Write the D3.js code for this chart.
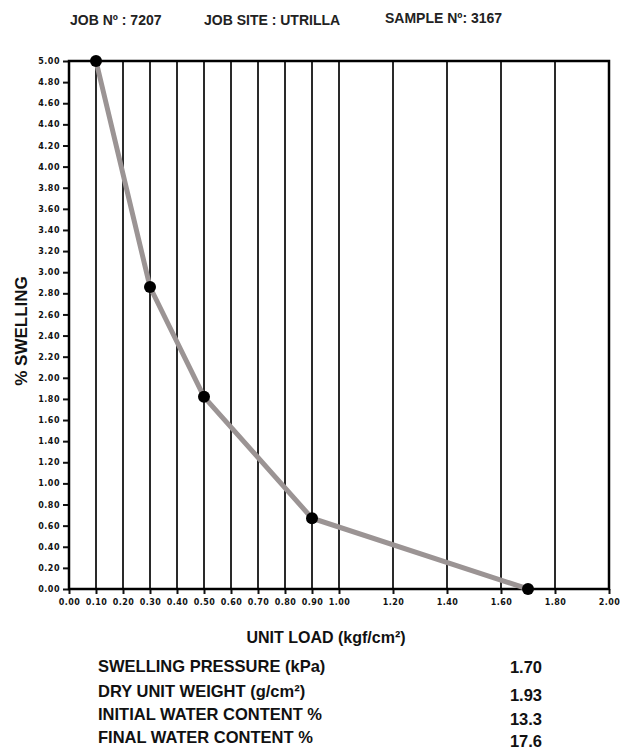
<!DOCTYPE html>
<html>
<head>
<meta charset="utf-8">
<script src="https://cdn.jsdelivr.net/npm/d3@7"></script>
<style>
  body { margin: 0; background: #fff; }
  svg { display: block; }
</style>
</head>
<body>
<svg id="chart" width="620" height="749"></svg>
<script>
// swelling test data
const loads = [0.1, 0.3, 0.5, 0.9, 1.7];
const swelling = [5.0, 2.86, 1.82, 0.67, 0.0];

// tick values
const xTicks = [0, 0.1, 0.2, 0.3, 0.4, 0.5, 0.6, 0.7, 0.8, 0.9, 1.0, 1.2, 1.4, 1.6, 1.8, 2.0];
const yTicks = d3.range(0, 26).map((i) => i * 0.2);

const headerLabels = ["JOB Nº : 7207", "JOB SITE : UTRILLA", "SAMPLE Nº: 3167"];
const tableLabels = ["SWELLING PRESSURE (kPa)", "DRY UNIT WEIGHT (g/cm²)", "INITIAL WATER CONTENT %", "FINAL WATER CONTENT %"];
const tableValues = ["1.70", "1.93", "13.3", "17.6"];

const svg = d3.select("#chart");
const margin = { top: 61, right: 11, bottom: 160, left: 69 };
const width = 620, height = 749;

const x = d3.scaleLinear().domain([0, 2]).range([margin.left, width - margin.right]);
const y = d3.scaleLinear().domain([0, 5]).range([height - margin.bottom, margin.top]);

const font = "'Liberation Sans', Arial, sans-serif";
const tickFont = "'DejaVu Sans', Verdana, sans-serif";

// header
const headerX = [70, 204, 385];
const headerY = [25, 25, 23];
svg.append("g")
  .selectAll("text")
  .data(headerLabels)
  .join("text")
  .attr("x", (d, i) => headerX[i])
  .attr("y", (d, i) => headerY[i])
  .attr("font-family", font)
  .attr("font-weight", "bold")
  .attr("font-size", 14)
  .attr("fill", "#222")
  .text((d) => d);

// vertical grid lines
svg.append("g")
  .selectAll("line")
  .data(xTicks.filter((d) => d > 0 && d < 2))
  .join("line")
  .attr("x1", (d) => x(d))
  .attr("x2", (d) => x(d))
  .attr("y1", y(5))
  .attr("y2", y(0))
  .attr("stroke", "#2a2a2a")
  .attr("stroke-width", 2);

// x axis
const xAxis = svg.append("g")
  .attr("transform", `translate(0, ${y(0)})`)
  .call(d3.axisBottom(x).tickValues(xTicks).tickSize(5).tickSizeOuter(0).tickFormat(d3.format(".2f")));
xAxis.select(".domain").remove();
xAxis.selectAll(".tick line").attr("stroke", "#111").attr("stroke-width", 2);
xAxis.selectAll(".tick text")
  .attr("y", 10)
  .attr("font-family", tickFont)
  .attr("font-weight", "bold")
  .attr("font-size", 8)
  .attr("letter-spacing", 0.5)
  .attr("fill", "#111");

// y axis
const yAxis = svg.append("g")
  .attr("transform", `translate(${x(0)}, 0)`)
  .call(d3.axisLeft(y).tickValues(yTicks).tickSize(6).tickSizeOuter(0).tickFormat(d3.format(".2f")));
yAxis.select(".domain").remove();
yAxis.selectAll(".tick line").attr("stroke", "#111").attr("stroke-width", 2);
yAxis.selectAll(".tick text")
  .attr("x", -9)
  .attr("font-family", tickFont)
  .attr("font-weight", "bold")
  .attr("font-size", 8)
  .attr("letter-spacing", 0.5)
  .attr("fill", "#111");

// frame
svg.append("rect")
  .attr("x", x(0))
  .attr("y", y(5))
  .attr("width", x(2) - x(0))
  .attr("height", y(0) - y(5))
  .attr("fill", "none")
  .attr("stroke", "#000")
  .attr("stroke-width", 2.5);

// swelling curve
const points = loads.map((d, i) => ({ load: d, swell: swelling[i] }));
const line = d3.line().x((d) => x(d.load)).y((d) => y(d.swell));

svg.append("path")
  .datum(points)
  .attr("fill", "none")
  .attr("stroke", "#9b9494")
  .attr("stroke-width", 5)
  .attr("d", line);

svg.append("g")
  .selectAll("circle")
  .data(points)
  .join("circle")
  .attr("cx", (d) => x(d.load))
  .attr("cy", (d) => y(d.swell))
  .attr("r", 6)
  .attr("fill", "#000");

// axis titles
svg.append("text")
  .attr("x", 326)
  .attr("y", 643)
  .attr("text-anchor", "middle")
  .attr("font-family", font)
  .attr("font-weight", "bold")
  .attr("font-size", 16)
  .attr("fill", "#111")
  .text("UNIT LOAD (kgf/cm²)");

svg.append("text")
  .attr("transform", `translate(27, 331) rotate(-90)`)
  .attr("text-anchor", "middle")
  .attr("font-family", font)
  .attr("font-weight", "bold")
  .attr("font-size", 17)
  .attr("fill", "#111")
  .text("% SWELLING");

// summary table
const labelY = [672, 697, 720, 743];
const valueY = [675, 703, 727, 749];
const table = svg.append("g");
table.selectAll("text.label")
  .data(tableLabels)
  .join("text")
  .attr("class", "label")
  .attr("x", 98)
  .attr("y", (d, i) => labelY[i])
  .attr("font-family", font)
  .attr("font-weight", "bold")
  .attr("font-size", 16.5)
  .attr("fill", "#111")
  .text((d) => d);

table.selectAll("text.value")
  .data(tableValues)
  .join("text")
  .attr("class", "value")
  .attr("x", 542)
  .attr("y", (d, i) => valueY[i] - 2)
  .attr("text-anchor", "end")
  .attr("font-family", font)
  .attr("font-weight", "bold")
  .attr("font-size", 16.5)
  .attr("fill", "#111")
  .text((d) => d);
</script>
</body>
</html>
